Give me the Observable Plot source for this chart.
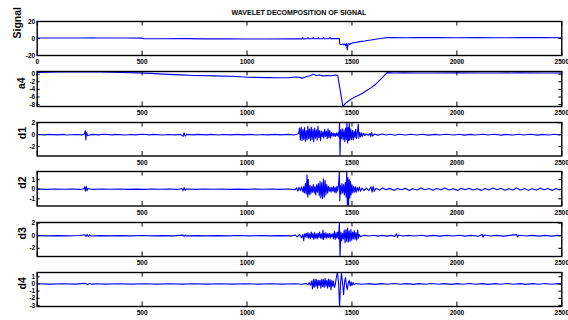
<!DOCTYPE html>
<html>
<head>
<meta charset="utf-8">
<script src="https://cdn.jsdelivr.net/npm/d3@7"></script>
<script src="https://cdn.jsdelivr.net/npm/@observablehq/plot@0.6"></script>
<style>
  html, body { margin: 0; padding: 0; background: #fff; }
  #chart { position: relative; width: 568px; height: 320px; background: #fff; overflow: hidden; font-family: "Liberation Sans", Arial, sans-serif; }
  #title { position: absolute; left: 0; width: 598px; top: 8px; text-align: center; font-size: 7px; font-weight: bold; line-height: 9px; color: #000; }
  .panel { position: absolute; left: 0; }
</style>
</head>
<body>
<div id="chart"><div id="title"></div></div>
<script>
// ---- data ----
const titleText = "WAVELET DECOMPOSITION OF SIGNAL";
const xTicks = [0, 500, 1000, 1500, 2000, 2500];
const panelNames = ["Signal", "a4", "d1", "d2", "d3", "d4"];

const signal = [[0,0.5],[60,0.6],[120,0.5],[200,0.6],[270,0.8],[280,0.5],[350,0.6],[430,0.5],[500,0.5],[505,-0.3],[600,-0.3],[700,-0.2],[800,-0.4],[900,-0.4],[1000,-0.5],[1100,-0.5],[1200,-0.4],[1260,-0.4],[1265,1.0],[1268,-0.4],[1285,-0.3],[1290,1.1],[1293,-0.3],[1310,-0.3],[1315,1.2],[1318,-0.3],[1335,-0.2],[1340,1.0],[1343,-0.2],[1360,-0.3],[1365,1.2],[1368,-0.3],[1390,-0.2],[1395,1.0],[1398,-0.2],[1425,-0.1],[1440,0.0],[1442,-6.8],[1450,-7.2],[1456,-6.4],[1462,-7.6],[1466,-6.2],[1470,-8.5],[1474,-6.3],[1478,-13.5],[1481,-6.5],[1486,-5.9],[1490,-7.4],[1494,-5.6],[1500,-5.4],[1510,-5.0],[1520,-4.6],[1530,-4.0],[1545,-3.4],[1560,-2.9],[1575,-2.3],[1590,-1.8],[1605,-1.2],[1620,-0.6],[1636,0.0],[1650,0.5],[1667,1.0],[1700,1.0],[1760,0.9],[1800,1.0],[1900,1.0],[2000,0.9],[2100,1.0],[2200,0.9],[2300,1.0],[2400,1.0],[2500,0.9]];
const signalTicks = [-20, 0, 20];

const a4 = [[0,0.45],[100,0.55],[200,0.65],[300,0.55],[400,0.45],[480,0.35],[540,0.2],[600,0.0],[680,-0.2],[750,-0.35],[850,-0.45],[950,-0.6],[1000,-0.8],[1100,-0.9],[1150,-0.95],[1200,-0.9],[1230,-0.75],[1250,-0.85],[1265,-1.05],[1285,-0.6],[1300,-0.4],[1315,-0.05],[1330,-0.35],[1345,-0.2],[1360,-0.45],[1380,-0.35],[1400,-0.4],[1420,-0.2],[1432,-0.3],[1445,-4.5],[1457,-8.5],[1470,-7.6],[1490,-6.8],[1510,-6.1],[1530,-5.6],[1550,-5.0],[1570,-4.3],[1590,-3.6],[1610,-2.8],[1630,-1.7],[1650,-0.6],[1667,0.4],[1700,0.3],[1750,0.35],[1800,0.3],[1900,0.3],[2000,0.35],[2100,0.3],[2200,0.3],[2300,0.35],[2400,0.3],[2500,0.3]];
const a4Ticks = [-8, -6, -4, -2, 0];

const d1 = [[0,0.02],[37,-0.04],[52,0.05],[95,-0.03],[128,0.04],[141,-0.05],[186,0.03],[214,-0.04],[225,0.1],[229,0.7],[232,-0.9],[235,0.35],[240,-0.15],[262,0.05],[291,-0.04],[317,0.06],[358,-0.03],[372,0.05],[419,-0.05],[447,0.03],[463,-0.04],[505,0.06],[538,-0.03],[552,0.04],[597,-0.05],[624,0.03],[655,-0.04],[683,0.05],[695,-0.3],[700,0.3],[705,-0.25],[712,0.05],[748,-0.04],[763,0.05],[808,-0.03],[826,0.04],[867,-0.05],[884,0.03],[923,-0.04],[958,0.05],[981,-0.03],[1016,0.04],[1043,-0.05],[1077,0.03],[1095,-0.04],[1136,0.05],[1158,-0.03],[1197,0.04],[1224,-0.05],[1240,0.1],
[1246,0.2],[1250,1.1],[1254,-0.9],[1258,1.3],[1262,-1.0],[1266,0.9],[1270,-0.8],[1274,1.2],[1278,-1.1],[1282,0.7],[1286,-0.9],[1290,1.4],[1294,-0.7],[1298,1.0],[1302,-1.0],[1306,1.3],[1310,-0.8],[1314,0.9],[1318,-1.2],[1322,1.1],[1326,-0.6],[1330,0.8],[1334,-0.9],[1338,1.4],[1342,-0.5],[1346,0.7],[1350,-1.0],[1354,0.6],[1358,-0.4],[1362,0.5],[1366,-0.6],[1370,0.9],[1374,-0.3],[1378,0.6],[1382,-0.7],[1386,1.0],[1390,-0.5],[1394,0.7],[1398,-0.6],[1402,0.4],[1406,-0.2],[1410,0.3],[1414,-0.3],[1418,0.2],[1422,-0.3],[1426,0.3],[1430,-0.2],[1434,0.3],[1438,-0.4],[1441,2.05],[1443,-3.6],[1446,0.8],[1450,-0.7],[1454,1.0],[1458,-0.9],[1462,0.8],[1466,-1.2],[1470,1.1],[1474,-0.8],[1476,2.05],[1479,-1.4],[1482,1.2],[1485,-1.0],[1487,2.05],[1490,-0.9],[1494,1.0],[1498,-0.8],[1502,0.7],[1506,-0.9],[1510,0.6],[1514,-0.5],[1518,0.9],[1522,-0.7],[1526,0.5],[1530,1.8],[1533,-0.6],[1537,0.4],[1541,-0.4],[1545,0.3],[1550,-0.3],[1555,0.25],
[1561,-0.15],[1567,0.12],[1578,-0.1],[1586,0.2],[1590,-0.3],[1594,0.35],[1599,-0.25],[1608,0.12],[1623,-0.08],[1644,0.1],[1663,-0.07],[1681,0.08],[1706,-0.09],[1722,0.06],[1757,-0.07],[1781,0.08],[1809,-0.05],[1836,0.07],[1862,-0.08],[1897,0.05],[1918,-0.07],[1946,0.08],[1988,-0.05],[2012,0.07],[2034,-0.08],[2068,0.05],[2085,-0.06],[2127,0.08],[2148,-0.05],[2176,0.07],[2211,-0.08],[2233,0.05],[2268,-0.07],[2296,0.08],[2317,-0.05],[2352,0.06],[2384,-0.08],[2409,0.05],[2437,-0.07],[2466,0.08],[2488,-0.05],[2500,0.02]];
const d1Ticks = [-2, 0, 2];

const d2 = [[0,0.01],[46,-0.02],[83,0.02],[131,-0.01],[164,0.02],[207,-0.02],[222,0.05],[226,0.25],[230,-0.2],[234,0.3],[238,-0.15],[242,0.08],[264,-0.02],[311,0.02],[347,-0.01],[392,0.02],[428,-0.02],[471,0.01],[509,-0.02],[548,0.02],[583,-0.01],[629,0.02],[668,-0.02],[690,0.08],[695,-0.15],[700,0.15],[705,-0.1],[710,0.03],[756,-0.02],[797,0.02],[839,-0.01],[876,0.02],[917,-0.02],[953,0.01],[996,-0.02],[1038,0.02],[1074,-0.01],[1118,0.02],[1157,-0.02],[1193,0.02],[1230,-0.04],
[1236,0.15],[1242,-0.2],[1248,0.2],[1254,-0.15],[1260,0.25],[1266,-0.3],[1270,0.3],[1274,-0.4],[1278,0.6],[1282,-0.5],[1286,1.5],[1289,-0.8],[1292,1.0],[1296,-0.6],[1300,0.4],[1304,-0.5],[1308,0.3],[1312,-0.3],[1316,0.5],[1320,-0.4],[1324,0.3],[1328,-0.6],[1332,0.5],[1336,-0.3],[1340,0.6],[1344,-0.7],[1348,0.8],[1352,-0.9],[1356,0.7],[1360,-1.0],[1364,1.1],[1368,-0.8],[1372,0.9],[1376,-0.6],[1380,0.5],[1384,-0.4],[1388,0.3],[1392,-0.2],[1396,0.2],[1400,-0.3],[1404,0.2],[1408,-0.2],[1412,0.3],[1416,-0.3],[1420,0.2],[1424,-0.4],[1428,0.3],[1432,-0.2],[1436,0.5],[1440,1.85],[1442,-1.2],[1444,0.4],[1448,-0.5],[1452,0.6],[1456,-0.4],[1460,0.5],[1464,-0.6],[1468,0.7],[1472,-0.8],[1475,1.85],[1478,-1.75],[1481,1.2],[1484,-1.75],[1487,1.0],[1490,-0.9],[1493,0.8],[1496,-0.6],[1500,0.5],[1504,-0.4],[1508,0.3],[1512,-0.3],[1516,0.25],[1520,-0.3],[1525,0.2],[1530,-0.2],[1535,0.25],[1540,-0.2],
[1548,0.12],[1557,-0.15],[1569,0.1],[1581,-0.14],[1591,0.25],[1596,-0.3],[1601,0.3],[1606,-0.22],[1614,0.1],[1631,-0.08],[1647,0.12],[1662,-0.06],[1679,0.09],[1703,-0.12],[1716,0.08],[1738,-0.05],[1754,0.1],[1773,-0.13],[1788,0.06],[1812,-0.09],[1829,0.12],[1845,-0.06],[1867,0.08],[1886,-0.11],[1903,0.07],[1925,-0.05],[1941,0.13],[1963,-0.08],[1982,0.06],[2004,-0.12],[2019,0.09],[2041,-0.06],[2058,0.11],[2076,-0.09],[2097,0.05],[2116,-0.12],[2134,0.08],[2153,-0.07],[2171,0.12],[2192,-0.06],[2208,0.09],[2229,-0.11],[2246,0.06],[2267,-0.08],[2283,0.13],[2304,-0.07],[2322,0.08],[2341,-0.12],[2358,0.06],[2379,-0.09],[2397,0.11],[2416,-0.06],[2433,0.08],[2455,-0.12],[2472,0.07],[2489,-0.08],[2500,0.02]];
const d2Ticks = [-1, 0, 1];

const d3 = [[0,0.02],[53,-0.03],[97,0.02],[148,-0.02],[201,0.03],[228,0.15],[233,-0.12],[238,0.18],[243,-0.1],[250,0.12],[256,-0.04],[304,0.02],[351,-0.03],[398,0.02],[447,-0.02],[503,0.03],[552,-0.02],[596,0.02],[648,-0.03],[695,0.1],[700,-0.1],[705,0.12],[710,-0.03],[763,0.02],[806,-0.03],[859,0.02],[912,-0.02],[957,0.03],[1013,-0.02],[1058,0.02],[1113,-0.03],[1157,0.02],[1212,-0.02],
[1230,0.1],[1240,-0.2],[1250,0.2],[1260,-0.3],[1266,0.2],[1270,-0.8],[1274,0.3],[1278,-0.2],[1282,0.4],[1286,-0.3],[1290,0.5],[1294,-0.4],[1298,0.3],[1302,-0.5],[1306,0.6],[1310,-0.3],[1314,0.4],[1318,-0.6],[1322,0.5],[1326,-0.4],[1330,0.3],[1334,-0.5],[1338,0.4],[1342,-0.3],[1346,0.6],[1350,-0.4],[1354,0.3],[1358,-0.5],[1362,0.9],[1365,-0.6],[1368,0.4],[1372,-0.3],[1376,0.5],[1380,-0.4],[1384,0.3],[1388,-0.3],[1392,0.4],[1396,-0.4],[1400,0.3],[1404,-0.2],[1408,0.3],[1412,-0.5],[1416,0.7],[1420,-0.6],[1424,0.5],[1428,-0.4],[1432,0.6],[1436,-0.5],[1440,2.1],[1443,-3.3],[1447,0.6],[1451,-0.8],[1455,0.4],[1459,-0.5],[1463,0.9],[1467,-1.1],[1471,1.0],[1475,-0.9],[1479,1.2],[1483,-1.0],[1487,0.8],[1491,-0.9],[1495,1.0],[1499,-0.7],[1503,0.6],[1507,-0.5],[1511,0.8],[1515,-0.6],[1519,0.5],[1523,-0.7],[1527,0.9],[1531,-0.4],[1535,0.2],[1540,-0.15],
[1558,0.06],[1583,-0.05],[1604,0.07],[1622,-0.06],[1645,0.05],[1668,-0.07],[1686,0.05],[1704,-0.1],[1712,0.3],[1717,-0.25],[1722,0.12],[1744,-0.05],[1771,0.06],[1797,-0.05],[1832,0.07],[1858,-0.06],[1889,0.05],[1917,-0.07],[1954,0.06],[1979,-0.05],[2013,0.07],[2038,-0.06],[2071,0.05],[2102,-0.08],[2120,0.2],[2125,-0.25],[2130,0.12],[2162,-0.05],[2188,0.06],[2223,-0.07],[2251,0.05],[2285,0.18],[2290,-0.2],[2295,0.08],[2331,-0.05],[2358,0.06],[2393,-0.07],[2418,0.05],[2452,-0.06],[2479,0.05],[2500,-0.02]];
const d3Ticks = [-2, 0, 2];

const d4 = [[0,0.02],[60,-0.03],[120,0.02],[180,-0.02],[230,0.08],[240,-0.1],[250,0.1],[260,-0.06],[270,0.03],[330,-0.02],[390,0.03],[450,-0.02],[510,0.02],[570,-0.03],[630,0.02],[690,-0.02],[750,0.03],[810,-0.02],[870,0.02],[930,-0.03],[990,0.02],[1050,-0.02],[1110,0.03],[1170,-0.02],[1230,0.02],[1260,-0.04],
[1280,0.05],[1290,-0.1],[1296,0.2],[1302,-0.2],[1308,0.4],[1312,-0.7],[1316,0.6],[1320,-0.5],[1324,0.7],[1328,-0.3],[1332,0.6],[1336,-0.6],[1340,0.5],[1344,-0.2],[1348,0.5],[1352,-0.6],[1356,0.7],[1360,-0.4],[1364,0.6],[1368,-0.5],[1372,0.8],[1376,-0.3],[1380,0.5],[1384,-0.6],[1388,0.7],[1392,-0.4],[1396,0.6],[1400,-0.8],[1404,0.5],[1408,-0.3],[1412,0.4],[1416,-0.5],[1420,-0.2],[1426,1.0],[1431,1.6],[1436,0.2],[1441,-3.15],[1446,0.3],[1450,1.5],[1455,0.2],[1460,-1.5],[1465,0.3],[1469,0.9],[1474,-0.3],[1478,-0.8],[1483,0.2],[1487,0.5],[1492,-0.3],[1496,0.3],[1500,-0.2],[1505,0.2],[1510,-0.1],[1520,0.05],
[1547,-0.04],[1583,0.05],[1608,-0.06],[1642,0.05],[1671,-0.04],[1697,0.06],[1733,-0.05],[1758,0.04],[1794,-0.06],[1818,0.05],[1853,-0.04],[1877,0.06],[1914,-0.05],[1938,0.04],[1973,-0.06],[2003,0.05],[2027,-0.04],[2064,0.06],[2088,-0.05],[2123,0.04],[2147,-0.06],[2184,0.05],[2207,-0.04],[2243,0.06],[2268,-0.05],[2304,0.04],[2327,-0.06],[2363,0.05],[2388,-0.04],[2423,0.06],[2447,-0.05],[2483,0.04],[2500,0.0]];
const d4Ticks = [-3, -2, -1, 0, 1];

// ---- layout (pixels) ----
const W = 568, mL = 36.7, mR = 6.7;
const panels = [
  {name: "Signal", data: signal, ticks: signalTicks, domain: [-20, 20], top: 20.7, bottom: 54.7, labelX: 16.7, zeroLabel: true},
  {name: "a4", data: a4, ticks: a4Ticks, domain: [-8.5, 0.7], top: 70.7, bottom: 105.7, labelX: 21.5},
  {name: "d1", data: d1, ticks: d1Ticks, domain: [-3.6, 2.05], top: 121.7, bottom: 155.2, labelX: 22},
  {name: "d2", data: d2, ticks: d2Ticks, domain: [-1.75, 1.85], top: 171.2, bottom: 205.7, labelX: 22},
  {name: "d3", data: d3, ticks: d3Ticks, domain: [-3.3, 2.1], top: 221.7, bottom: 255.7, labelX: 22},
  {name: "d4", data: d4, ticks: d4Ticks, domain: [-3.15, 1.6], top: 271.7, bottom: 305.7, labelX: 22}
];

const chart = document.getElementById("chart");
document.getElementById("title").textContent = titleText;
const mT = 3, mB = 13;
const plotW = W - mL - mR;

for (const p of panels) {
  const h = p.bottom - p.top;
  const xLabels = p.zeroLabel ? xTicks : xTicks.filter(d => d !== 0);
  const svg = Plot.plot({
    width: W,
    height: h + mT + mB,
    marginLeft: mL, marginRight: mR, marginTop: mT, marginBottom: mB,
    style: {background: "transparent", fontFamily: "'Liberation Sans', Arial, sans-serif", fontSize: "6.5px", fontWeight: "bold", color: "black", overflow: "visible"},
    x: {domain: [0, 2500], axis: null},
    y: {domain: p.domain, axis: null},
    marks: [
      Plot.line(p.data, {x: d => d[0], y: d => d[1], stroke: "#0000ff", strokeWidth: 1.1, clip: true}),
      Plot.tickX(xTicks, {x: d => d, insetBottom: h - 4.5, stroke: "black", strokeWidth: 1}),
      Plot.tickX(xTicks, {x: d => d, insetTop: h - 4.5, stroke: "black", strokeWidth: 1}),
      Plot.tickY(p.ticks, {y: d => d, insetRight: plotW - 3, stroke: "black", strokeWidth: 1}),
      Plot.tickY(p.ticks, {y: d => d, insetLeft: plotW - 3, stroke: "black", strokeWidth: 1}),
      Plot.frame({stroke: "black", strokeWidth: 1.4}),
      Plot.text(xLabels, {x: d => d, frameAnchor: "bottom", lineAnchor: "top", dy: 4, text: d => String(d), fill: "black"}),
      Plot.text(p.ticks, {y: d => d, frameAnchor: "left", textAnchor: "end", dx: -2, text: d => String(d), fill: "black"}),
      Plot.text([p.name], {frameAnchor: "left", dx: p.labelX - mL, rotate: -90, fontSize: 10.5, fontWeight: "bold", text: d => d, fill: "black"})
    ]
  });
  svg.classList.add("panel");
  svg.style.top = (p.top - mT) + "px";
  svg.style.position = "absolute";
  chart.appendChild(svg);
}
</script>
</body>
</html>
